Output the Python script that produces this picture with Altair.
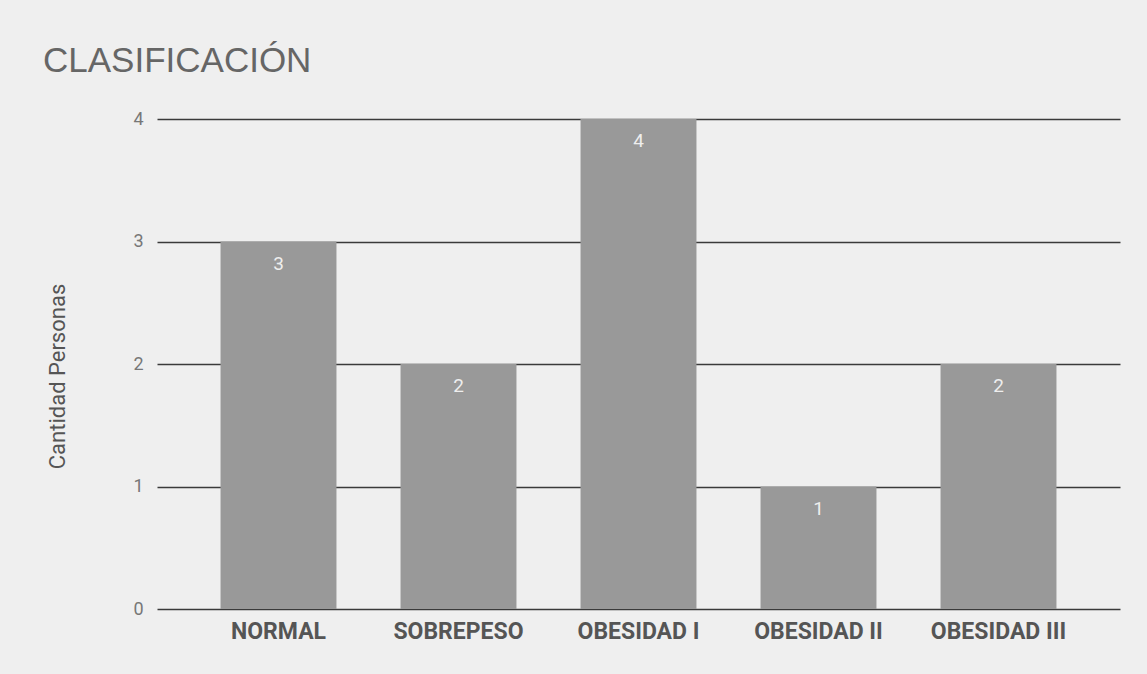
import altair as alt
import pandas as pd

categories = ["NORMAL", "SOBREPESO", "OBESIDAD I", "OBESIDAD II", "OBESIDAD III"]
values = [3, 2, 4, 1, 2]
y_ticks = [0, 1, 2, 3, 4]

df = pd.DataFrame({"cat": categories, "val": values})

base = alt.Chart(df).encode(
    x=alt.X(
        "cat:N",
        sort=categories,
        scale=alt.Scale(paddingInner=0.356, paddingOuter=0.353),
        axis=alt.Axis(
            title=None, labelAngle=0, labelFont="Roboto", labelFontWeight="bold",
            labelFontSize=23, labelColor="#555555", labelPadding=11,
            ticks=False, domain=False, grid=False,
        ),
    )
)

bars = base.mark_bar(color="#999999").encode(
    y=alt.Y(
        "val:Q",
        scale=alt.Scale(domain=[0, 4]),
        axis=alt.Axis(
            values=y_ticks, format="d", title="Cantidad Personas", grid=True,
            gridColor="#3a3a3a", gridWidth=1.3, ticks=False, domain=False,
            labelColor="#777777", labelFontSize=18, labelFont="Roboto", labelPadding=14,
            titleFont="Roboto", titleFontSize=22, titleFontWeight="normal",
            titleColor="#555555", titleX=-100, titleY=257, titleAngle=270,
            titleAlign="center", titleBaseline="middle",
        ),
    )
)

text = base.mark_text(
    color="#eeeeee", fontSize=19, dy=22, baseline="middle", font="Roboto"
).encode(y=alt.Y("val:Q"), text="val:Q")

chart = (
    (bars + text)
    .properties(
        width=963,
        height=490,
        title=alt.Title(
            "CLASIFICACIÓN", anchor="start", frame="group", dx=-114, offset=3,
            fontSize=35, font="Liberation Sans", fontWeight="normal", color="#666666",
            baseline="alphabetic",
        ),
        autosize=alt.AutoSizeParams(type="none"),
        padding={"left": 157, "top": 119, "right": 27, "bottom": 65},
        background="#efefef",
    )
    .configure_view(stroke=None)
)

chart.save("out.html", embed_options={"renderer": "svg", "actions": False})
